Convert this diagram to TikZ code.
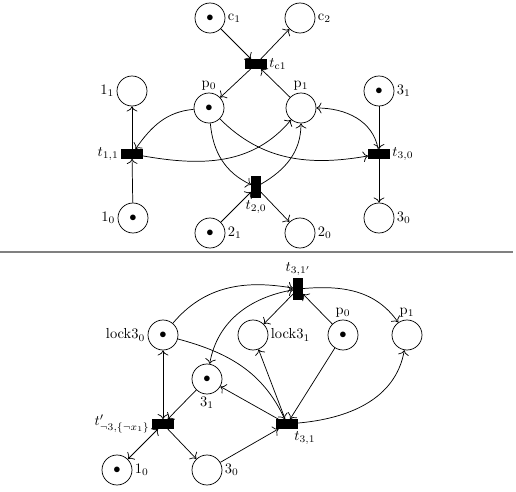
\documentclass[tikz,border=0pt]{standalone}
\usetikzlibrary{arrows.meta}

\begin{document}
\begin{tikzpicture}[x=0.69pt, y=-0.69pt, line width=0.5pt, >={To[scale=1.3]},
    place/.style={circle, draw, minimum size=20.7pt, inner sep=0pt},
    trans/.style={rectangle, draw, fill=black, minimum width=14.5pt, minimum height=6.2pt, inner sep=0pt},
    vtrans/.style={rectangle, draw, fill=black, minimum width=6.2pt, minimum height=14.5pt, inner sep=0pt},
    every label/.style={inner sep=1.5pt}]
  \useasboundingbox (0,0) rectangle (516,492);

          % upper net
          \node[place, label=right:$\mathrm{c}_1$] (c1) at (210, 18) {$\bullet$};
          \node[place, label=right:$\mathrm{c}_2$] (c2) at (300, 18) {};
          \node[trans, label=right:$t_{\mathrm{c}1}$] (tc1) at (256, 64) {};
          \node[place, label=above:$\mathrm{p}_0$] (p0) at (209, 108) {$\bullet$};
          \node[place, label=above:$\mathrm{p}_1$] (p1) at (301, 108) {};
          \node[place, label=left:$1_1$] (v11) at (132, 91) {};
          \node[place, label=right:$3_1$] (v31) at (379, 91) {$\bullet$};
          \node[trans, label=left:$t_{1,1}$] (t11) at (132, 154) {};
          \node[trans, label=right:$t_{3,0}$] (t30) at (379, 154) {};
          \node[vtrans, label=below:$t_{2,0}$] (t20) at (256, 187) {};
          \node[place, label=left:$1_0$] (v10) at (133, 218) {$\bullet$};
          \node[place, label=right:$2_1$] (v21) at (210, 233) {$\bullet$};
          \node[place, label=right:$2_0$] (v20) at (300, 233) {};
          \node[place, label=right:$3_0$] (v30) at (379, 218) {};

          \draw[->] (c1) -- (tc1);
          \draw[->] (tc1) -- (c2);
          \draw[->] (tc1) -- (p0);
          \draw[->] (p1) -- (tc1);
          \draw[->] (t11) -- (v11);
          \draw[->] (v10) -- (t11);
          \draw[->] (p0) to[out = 185, in = 55] (t11);
          \draw[->] (t11) to[out = -10, in = -130] (p1);
          \draw[->] (p0) to[out = -45, in = 190] (t30);
          \draw[->] (t30) to[out = 100, in = 0] (p1);
          \draw[->] (v31) -- (t30);
          \draw[->] (t30) -- (v30);
          \draw[->] (p0) to[out = -85, in = 155] (t20);
          \draw[->] (t20) to[out = 30, in = -90] (p1);
          \draw[->] (v21) -- (t20);
          \draw[->] (t20) -- (v20);

  \draw[gray, line width=0.8pt] (0, 252) -- (513, 252);

          % lower net
          \node[vtrans, label=above:$t_{3,1'}$] (t31b) at (298, 289) {};
          \node[place, label=left:$\mathrm{lock3}_0$] (lk0) at (163, 335) {$\bullet$};
          \node[place, label=right:$\mathrm{lock3}_1$] (lk1) at (253, 335) {};
          \node[place, label=above:$\mathrm{p}_0$] (q0) at (343, 335) {$\bullet$};
          \node[place, label=above:$\mathrm{p}_1$] (q1) at (407, 335) {};
          \node[place, label=below:$3_1$] (w31) at (207, 379) {$\bullet$};
          \node[trans, label=left:$t'_{\neg 3,\{\neg x_1\}}$] (tn) at (163, 424) {};
          \node[trans, label=below right:$t_{3,1}$] (t31) at (287, 424) {};
          \node[place, label=right:$1_0$] (w10) at (117, 470) {$\bullet$};
          \node[place, label=right:$3_0$] (w30) at (207, 470) {};

          \draw[->] (lk0) to[out = 50, in = 170] (t31b);
          \draw[<->] (w31) to[out = 80, in = 190] (t31b);
          \draw[->] (t31b) -- (lk1);
          \draw[->] (q0) -- (t31b);
          \draw[->] (t31b) to[out = 5, in = 125] (q1);
          \draw[<->] (lk0) -- (tn);
          \draw[->] (w31) -- (tn);
          \draw[<->] (tn) -- (w10);
          \draw[->] (tn) -- (w30);
          \draw[->] (w30) -- (t31);
          \draw[->] (lk0) to[out = -15, in = 115] (t31);
          \draw[->] (t31) -- (lk1);
          \draw[->] (q0) -- (t31);
          \draw[->] (t31) -- (w31);
          \draw[->] (t31) to[out = 5, in = -100] (q1);
        \end{tikzpicture}
\end{document}
